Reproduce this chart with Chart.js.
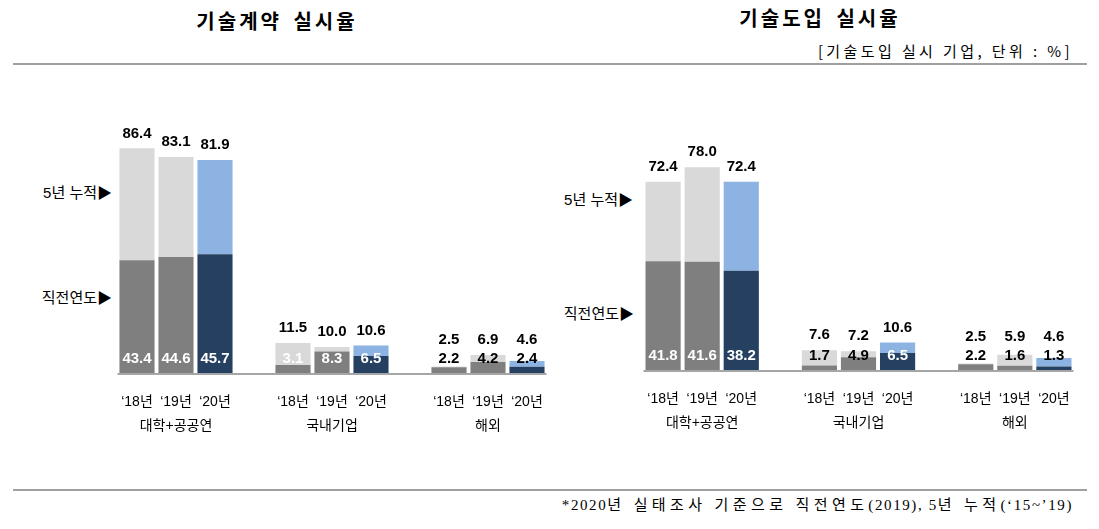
<!DOCTYPE html>
<html>
<head>
<meta charset="utf-8">
<title>기술계약 / 기술도입 실시율</title>
<script src="https://cdn.jsdelivr.net/npm/chart.js"></script>
<style>
  body { margin: 0; background: #fff; }
  #page { position: relative; width: 1099px; height: 529px; overflow: hidden;
          font-family: "Liberation Sans", "Noto Sans CJK KR", sans-serif; color: #000; }
  .abs { position: absolute; white-space: nowrap; }
  .title { font-family: "Noto Sans CJK KR", sans-serif; font-size: 20px; font-weight: bold;
           letter-spacing: 3px; word-spacing: 4px; transform: translate(-50%, -50%); }
  .side { font-family: "Liberation Sans", "Noto Sans CJK KR", sans-serif; font-size: 15px;
          transform: translate(-100%, -50%); }
  .rule { position: absolute; height: 2px; background: #a0a0a0; }
  .note .k { letter-spacing: 4.4px; }
  canvas { position: absolute; }
</style>
</head>
<body>
<div id="page">
  <div class="abs title" style="left:277px; top:20px;">기술계약 실시율</div>
  <div class="abs title" style="left:820px; top:17px;">기술도입 실시율</div>
  <div class="abs" style="right:26px; top:50px; transform:translateY(-50%); font-family:'Noto Sans CJK KR',sans-serif; font-size:15px; letter-spacing:3.4px;">[기술도입 실시 기업, 단위 : %]</div>
  <div class="rule" style="left:13px; width:1074px; top:63px;"></div>

  <div class="abs side" style="left:112px; top:191px;">5년 누적▶</div>
  <div class="abs side" style="left:112px; top:296px;">직전연도▶</div>
  <div class="abs side" style="left:633px; top:198px;">5년 누적▶</div>
  <div class="abs side" style="left:634px; top:312px;">직전연도▶</div>

  <canvas id="contractChart" width="590" height="400" style="left:0px; top:70px;"></canvas>
  <canvas id="introChart" width="539" height="400" style="left:560px; top:70px;"></canvas>

  <div class="rule" style="left:13px; width:1074px; top:489px;"></div>
  <div class="abs note" style="right:26px; top:503px; transform:translateY(-50%); font-family:'Liberation Serif','Noto Sans CJK KR',serif; font-size:15px; letter-spacing:1.6px;">*2020<span class="k">년 실태조사 기준으로 직전연도</span>(2019), 5<span class="k">년 누적</span>(‘15~’19)</div>
</div>

<script>
  // categories and year labels
  const groups = ['대학+공공연', '국내기업', '해외'];
  const years = ['‘18년', '‘19년', '‘20년'];

  // 기술계약 실시율 : 직전연도 / 5년 누적
  const contractPrev18 = [43.4, 3.1, 2.2];
  const contractPrev19 = [44.6, 8.3, 4.2];
  const contractPrev20 = [45.7, 6.5, 2.4];
  const contractCum18 = [86.4, 11.5, 2.5];
  const contractCum19 = [83.1, 10.0, 6.9];
  const contractCum20 = [81.9, 10.6, 4.6];

  // 기술도입 실시율 : 직전연도 / 5년 누적
  const introPrev18 = [41.8, 1.7, 2.2];
  const introPrev19 = [41.6, 4.9, 1.6];
  const introPrev20 = [38.2, 6.5, 1.3];
  const introCum18 = [72.4, 7.6, 2.5];
  const introCum19 = [78.0, 7.2, 5.9];
  const introCum20 = [72.4, 10.6, 4.6];

  const GRAY_DARK = '#7f7f7f', GRAY_LIGHT = '#d9d9d9';
  const NAVY = '#254061', SKY = '#8db3e2';
  const numFont = 'bold 15px "Liberation Sans", Arial, sans-serif';
  const labelFont = '14px "Liberation Sans", "Noto Sans CJK KR", sans-serif';

  function makeDatasets(prevs, cums) {
    const out = [];
    prevs.forEach((prev, k) => {
      const latest = k === prevs.length - 1;
      out.push({
        label: years[k] + ' 직전연도', data: prev, stack: 's' + k,
        backgroundColor: latest ? NAVY : GRAY_DARK
      });
      out.push({
        label: years[k] + ' 5년 누적',
        data: cums[k].map((c, i) => Math.round((c - prev[i]) * 10) / 10),
        stack: 's' + k,
        backgroundColor: latest ? SKY : GRAY_LIGHT
      });
    });
    return out;
  }

  const barText = {
    id: 'barText',
    afterDatasetsDraw(chart, args, opts) {
      const ctx = chart.ctx;
      const n = opts.prevs.length;
      const base = chart.scales.y.getPixelForValue(0);
      const first = chart.getDatasetMeta(0).data[0];
      const lastMeta = chart.getDatasetMeta(2 * n - 1);
      const last = lastMeta.data[lastMeta.data.length - 1];

      ctx.save();
      ctx.strokeStyle = '#a6a6a6';
      ctx.lineWidth = 2;
      ctx.beginPath();
      ctx.moveTo(first.x - first.width / 2 - 2, base + 1);
      ctx.lineTo(last.x + last.width / 2 + 2, base + 1);
      ctx.stroke();

      ctx.textAlign = 'center';
      ctx.textBaseline = 'middle';
      for (let k = 0; k < n; k++) {
        const lower = chart.getDatasetMeta(2 * k).data;
        const upper = chart.getDatasetMeta(2 * k + 1).data;
        lower.forEach((bar, i) => {
          ctx.font = numFont;
          ctx.fillStyle = opts.innerWhite[k][i] ? '#fff' : '#000';
          ctx.fillText(opts.prevs[k][i].toFixed(1), bar.x, base - 14);
          ctx.fillStyle = '#000';
          const y = Math.min(upper[i].y - 15, base - 33);
          ctx.fillText(opts.cums[k][i].toFixed(1), bar.x, y);
          ctx.font = labelFont;
          ctx.fillText(years[k], bar.x, base + 29);
        });
      }
      ctx.font = labelFont;
      groups.forEach((g, i) => {
        ctx.fillText(g, chart.scales.x.getPixelForValue(i), base + 53);
      });
      ctx.restore();
    }
  };

  function drawChart(id, prevs, cums, innerWhite, padding) {
    return new Chart(document.getElementById(id), {
      type: 'bar',
      data: { labels: groups, datasets: makeDatasets(prevs, cums) },
      options: {
        responsive: false,
        animation: false,
        layout: { padding: padding },
        datasets: { bar: { categoryPercentage: 0.75, barPercentage: 0.9, borderWidth: 0 } },
        scales: {
          x: { stacked: true, display: false },
          y: { stacked: true, display: false, min: 0, max: 100 }
        },
        plugins: {
          legend: { display: false },
          tooltip: { enabled: false },
          barText: { prevs: prevs, cums: cums, innerWhite: innerWhite }
        }
      },
      plugins: [barText]
    });
  }

  drawChart('contractChart',
    [contractPrev18, contractPrev19, contractPrev20],
    [contractCum18, contractCum19, contractCum20],
    [[1, 1, 0], [1, 1, 0], [1, 1, 0]],
    { left: 98, right: 24, top: 43, bottom: 97 });

  drawChart('introChart',
    [introPrev18, introPrev19, introPrev20],
    [introCum18, introCum19, introCum20],
    [[1, 0, 0], [1, 0, 0], [1, 1, 0]],
    { left: 64, right: 6, top: 40, bottom: 100 });
</script>
</body>
</html>
